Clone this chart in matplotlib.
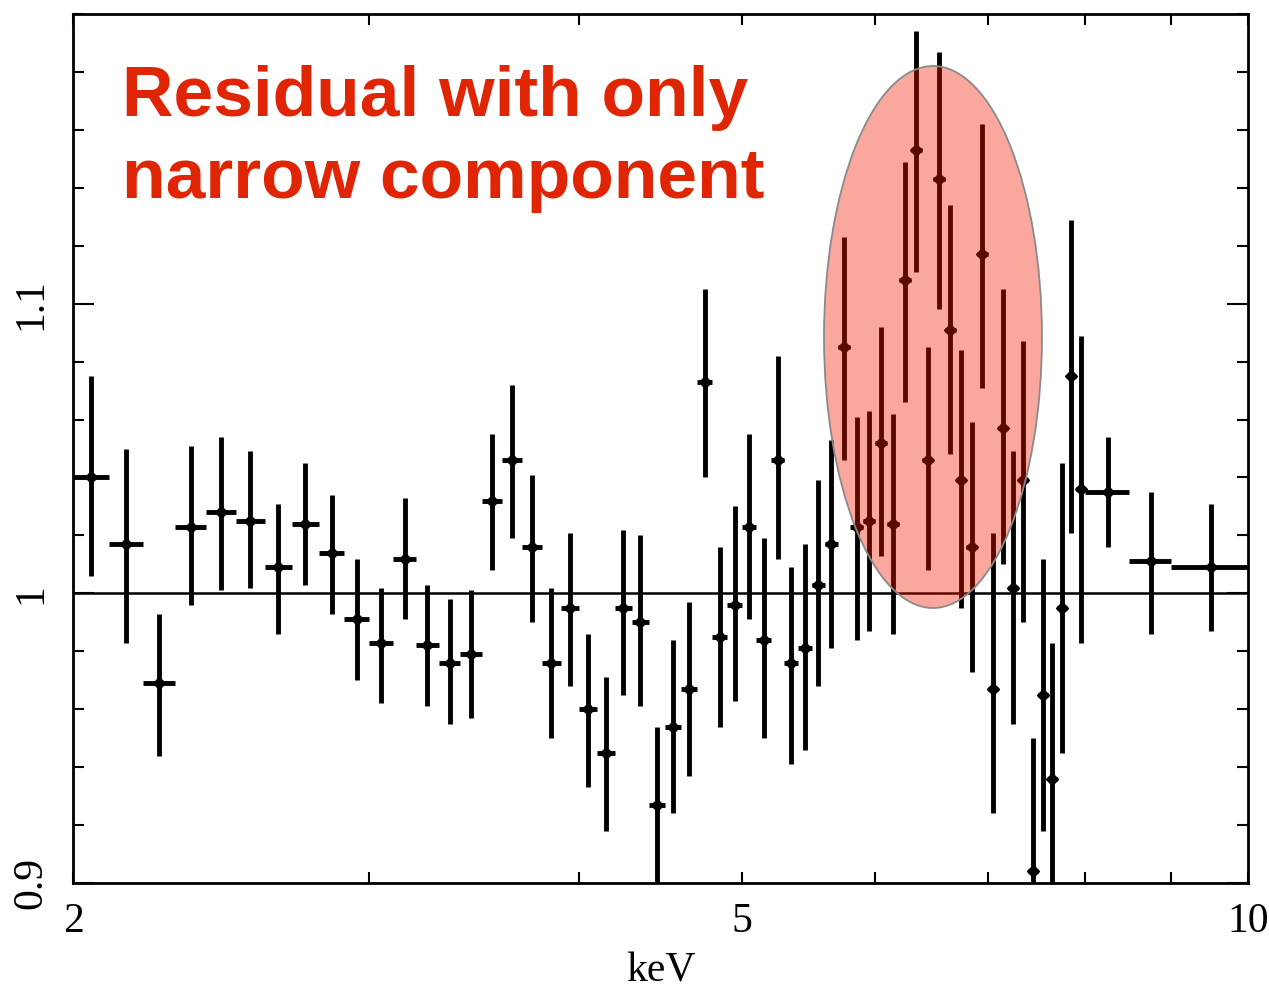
import matplotlib
matplotlib.use("Agg")
import matplotlib.pyplot as plt
from matplotlib.patches import Ellipse
from matplotlib.ticker import MultipleLocator, NullFormatter

# bordas dos canais em energia (keV)
edges = [2.0, 2.1, 2.2, 2.3, 2.4, 2.5, 2.6, 2.7, 2.8, 2.9,
         3.0, 3.1, 3.2, 3.3, 3.4, 3.5, 3.6, 3.7, 3.8, 3.9,
         4.0, 4.1, 4.2, 4.3, 4.4, 4.5, 4.6, 4.7, 4.8, 4.9,
         5.0, 5.1, 5.2, 5.3, 5.4, 5.5, 5.6, 5.7, 5.8, 5.9,
         6.0, 6.1, 6.2, 6.3, 6.4, 6.5, 6.6, 6.7, 6.8, 6.9,
         7.0, 7.1, 7.2, 7.3, 7.4, 7.5, 7.6, 7.7, 7.8, 7.9,
         8.0, 8.5, 9.0, 10.0]

# razao dados/modelo
ratio = [1.040, 1.017, 0.969, 1.023, 1.028, 1.025, 1.009, 1.024, 1.014, 0.991,
         0.983, 1.012, 0.982, 0.976, 0.979, 1.032, 1.046, 1.016, 0.976, 0.995,
         0.960, 0.945, 0.995, 0.990, 0.927, 0.954, 0.967, 1.073, 0.985, 0.996,
         1.023, 0.984, 1.046, 0.976, 0.981, 1.003, 1.017, 1.085, 1.023, 1.025,
         1.052, 1.024, 1.108, 1.153, 1.046, 1.143, 1.091, 1.039, 1.016, 1.117,
         0.967, 1.057, 1.002, 1.039, 0.904, 0.965, 0.936, 0.995, 1.075, 1.036,
         1.035, 1.011, 1.009]

ratio_hi = [1.075, 1.050, 0.993, 1.051, 1.054, 1.049, 1.031, 1.045, 1.034, 1.012,
            1.002, 1.033, 1.003, 0.998, 1.001, 1.055, 1.072, 1.041, 1.002, 1.021,
            0.986, 0.971, 1.022, 1.020, 0.954, 0.984, 0.997, 1.105, 1.016, 1.030,
            1.055, 1.019, 1.082, 1.009, 1.017, 1.039, 1.053, 1.123, 1.061, 1.063,
            1.092, 1.062, 1.149, 1.194, 1.085, 1.187, 1.134, 1.084, 1.059, 1.162,
            1.021, 1.105, 1.049, 1.087, 0.950, 1.012, 0.983, 1.045, 1.129, 1.089,
            1.054, 1.035, 1.031]

ratio_lo = [1.006, 0.983, 0.944, 0.996, 1.001, 1.002, 0.986, 1.003, 0.993, 0.970,
            0.962, 0.991, 0.961, 0.955, 0.957, 1.008, 1.019, 0.990, 0.950, 0.968,
            0.933, 0.918, 0.965, 0.961, 0.897, 0.924, 0.937, 1.040, 0.954, 0.963,
            0.991, 0.950, 1.012, 0.941, 0.946, 0.968, 0.981, 1.046, 0.984, 0.987,
            1.013, 0.986, 1.066, 1.111, 1.008, 1.098, 1.048, 0.995, 0.973, 1.071,
            0.924, 1.010, 0.955, 0.990, 0.860, 0.918, 0.880, 0.945, 1.021, 0.983,
            1.016, 0.986, 0.987]

xticks = [2, 5, 10]
xticklabels = ["2", "5", "10"]
yticks = [0.9, 1.0, 1.1]
yticklabels = ["0.9", "1", "1.1"]

centro = [(a + b) / 2 for a, b in zip(edges[:-1], edges[1:])]
xerr = [[c - a for c, a in zip(centro, edges[:-1])],
        [b - c for c, b in zip(centro, edges[1:])]]
yerr = [[r - l for r, l in zip(ratio, ratio_lo)],
        [h - r for r, h in zip(ratio, ratio_hi)]]

fig = plt.figure(figsize=(12.69, 9.91), dpi=100)
ax = fig.add_axes([73/1269, 1 - 883/991, 1175/1269, 869/991])

ax.axhline(1.0, color="black", lw=1.8, zorder=1)
ax.errorbar(centro, ratio, xerr=xerr, yerr=yerr, fmt="D", color="black",
            ms=6.5, elinewidth=3.5, capsize=0, zorder=2)

ax.set_xscale("log")
ax.set_xlim(2, 10)
ax.set_ylim(0.9, 1.2)

serif = "Liberation Serif"
ax.set_xticks(xticks)
ax.set_xticklabels(xticklabels, fontfamily=serif, fontsize=30)
ax.set_xticks([3, 4, 6, 7, 8, 9], minor=True)
ax.xaxis.set_minor_formatter(NullFormatter())
ax.set_yticks(yticks)
ax.set_yticklabels(yticklabels, fontfamily=serif, fontsize=30, rotation=90, va="center")
ax.yaxis.set_minor_locator(MultipleLocator(0.02))

ax.tick_params(axis="both", which="both", direction="in", top=True, right=True, width=1.5)
ax.tick_params(axis="x", which="both", length=8, pad=14)
ax.tick_params(axis="y", which="major", length=15, pad=16)
ax.tick_params(axis="y", which="minor", length=8)
for s in ax.spines.values():
    s.set_linewidth(2)

ax.set_xlabel("keV", fontfamily=serif, fontsize=30, labelpad=8)

# elipse destacando o excesso de ferro
elipse = Ellipse((0.7319, 0.6283), 0.1855, 0.6237, transform=ax.transAxes,
                 facecolor=(0.953, 0.106, 0.0, 0.38), edgecolor="#8a8a8a",
                 lw=1.3, zorder=5)
ax.add_patch(elipse)

vermelho = "#e02505"
fig.text(122/1269, 1 - 116/991, "Residual with only", color=vermelho,
         fontfamily="Liberation Sans", fontweight="bold", fontsize=51.4, va="baseline")
fig.text(122/1269, 1 - 198/991, "narrow component", color=vermelho,
         fontfamily="Liberation Sans", fontweight="bold", fontsize=51.4, va="baseline")

fig.savefig("out.png", dpi=100)
